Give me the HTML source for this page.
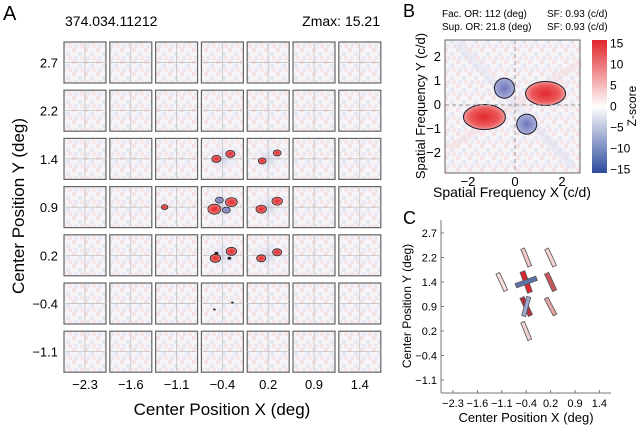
<!DOCTYPE html>
<html><head><meta charset="utf-8"><style>
body{margin:0;background:#fff;}
svg{display:block;font-family:"Liberation Sans",sans-serif;}
</style></head><body>
<svg id="fig" width="640" height="428" viewBox="0 0 640 428">
<defs>
<radialGradient id="rg"><stop offset="0" stop-color="#e0282c"/><stop offset="0.7" stop-color="#ec5a5c"/><stop offset="1" stop-color="#f29a9a"/></radialGradient>
<radialGradient id="bg"><stop offset="0" stop-color="#6d76bd"/><stop offset="1" stop-color="#a9afd8"/></radialGradient>
<radialGradient id="tint"><stop offset="0" stop-color="#c9cde8" stop-opacity="0.7"/><stop offset="1" stop-color="#fff" stop-opacity="0"/></radialGradient>
<linearGradient id="cbar" x1="0" y1="0" x2="0" y2="1"><stop offset="0" stop-color="#e0262b"/><stop offset="0.5" stop-color="#ffffff"/><stop offset="1" stop-color="#2d4a9c"/></linearGradient>
<pattern id="noise" width="12" height="12" patternUnits="userSpaceOnUse"><rect width="12" height="12" fill="#f7f4f7"/><rect x="0" y="0" width="4" height="4" fill="#f3e3e6"/><rect x="6" y="4" width="4" height="4" fill="#e6e8f3"/><rect x="2" y="8" width="4" height="4" fill="#ebeaf4"/><rect x="8" y="8" width="4" height="4" fill="#f5e6e8"/></pattern>
</defs>
<g id="panelA">
<text x="3" y="20" font-size="20">A</text>
<text x="65" y="26" font-size="14">374.034.11212</text>
<text x="380" y="26" font-size="14" text-anchor="end">Zmax: 15.21</text>
<text x="222" y="415" font-size="17" text-anchor="middle">Center Position X (deg)</text>
<text transform="translate(24,206) rotate(-90)" font-size="17" text-anchor="middle">Center Position Y (deg)</text>
<g id="gridA"></g>
</g>
<g id="panelB">
<text x="403" y="17" font-size="18">B</text>
<text x="442" y="17" font-size="10">Fac. OR: 112 (deg)</text>
<text x="547" y="17" font-size="10">SF: 0.93 (c/d)</text>
<text x="442" y="30" font-size="10">Sup. OR: 21.8 (deg)</text>
<text x="547" y="30" font-size="10">SF: 0.93 (c/d)</text>
<rect x="445" y="40" width="135" height="133" fill="url(#noise)"/>
<g id="blobsB"></g>
<line x1="515" y1="40" x2="515" y2="173" stroke="#999" stroke-dasharray="4,3"/>
<line x1="445" y1="105" x2="580" y2="105" stroke="#999" stroke-dasharray="4,3"/>
<rect x="445" y="40" width="135" height="133" fill="none" stroke="#666"/>
<g id="ticksB" font-size="13"></g>
<text x="512" y="197" font-size="14" text-anchor="middle">Spatial Frequency X (c/d)</text>
<text transform="translate(425,106) rotate(-90)" font-size="13" text-anchor="middle">Spatial Frequency Y (c/d)</text>
<rect x="592" y="40" width="15" height="133" fill="url(#cbar)"/>
<g id="cbTicks" font-size="12"></g>
<text transform="translate(636,106) rotate(-90)" font-size="12" text-anchor="middle">Z-score</text>
</g>
<g id="panelC">
<text x="403" y="224" font-size="18">C</text>
<line x1="441" y1="220" x2="441" y2="393" stroke="#777"/>
<line x1="441" y1="393" x2="611" y2="393" stroke="#777"/>
<g id="ticksC" font-size="11"></g>
<g id="barsC"></g>
<text x="526" y="422" font-size="13" text-anchor="middle">Center Position X (deg)</text>
<text transform="translate(411,306) rotate(-90)" font-size="12" text-anchor="middle">Center Position Y (deg)</text>
</g>
</svg>
<script>
const xLabels=["\u22122.3","\u22121.6","\u22121.1","\u22120.4","0.2","0.9","1.4"];
const yLabels=["2.7","2.2","1.4","0.9","0.2","\u22120.4","\u22121.1"];
// panel A blobs: column index, row index, dx, dy (px offset from cell center), radius, type
const blobCol=[3,3,4,4,2,3,3,3,3,4,4,3,3,3,3,4,4,3,3];
const blobRow=[2,2,2,2,3,3,3,3,3,3,3,4,4,4,4,4,4,5,5];
const blobDx=[-6,8,-6,9,-12,-8,9,-3,4,-7,9,-7,9,-6,7,-7,9,-8,10];
const blobDy=[0,-5,2,-6,0,2,-5,-7,3,2,-6,3,-4,-2,3,3,-3,6,-1];
const blobR=[3.5,3.5,3,3,2.5,5,4.5,3,3,4,4,4,4,1.5,1.5,3.5,3.5,1,1];
const blobType=["r","r","r","r","r","r","r","b","b","r","r","r","r","d","d","r","r","d","d"];
// panel C bars
const barCol=[3,4,2,3,4,3,4,3,3,3];
const barRow=[1,1,2,2,2,3,3,4,2,3];
const barAngle=[68,65,65,70,65,65,62,68,-20,105];
const barFill=["#f2c7c4","#f6d6d4","#f7e0de","#d9272f","#c9555c","#b2303a","#e4a5a6","#f3d3d1","#5d72a8","#9ea8d2"];
const barWidth=[4,4,4,5,4.5,4.5,4,4,4.5,4];
const barLen=[19,19,19,22,19,20,19,19,22,20];
const cbVals=[15,10,5,0,-5,-10,-15];
const bTicks=[-2,-1,0,1,2];
const bTickLabels=["\u22122","\u22121","0","1","2"];

const NS="http://www.w3.org/2000/svg";
function mk(tag,attrs,parent){const e=document.createElementNS(NS,tag);for(const k in attrs)e.setAttribute(k,attrs[k]);parent.appendChild(e);return e;}
const colX=i=>85+i*45.8, rowY=j=>62.5+j*48.2;
const gA=document.getElementById('gridA');
for(let j=0;j<7;j++){
  for(let i=0;i<7;i++){
    const cx=colX(i),cy=rowY(j);
    const r=mk('rect',{x:cx-21,y:cy-20.5,width:42,height:41,fill:'url(#noise)',stroke:'#666','stroke-width':1.2},gA);
    
    
    if((i===3||i===4)&&(j>=2&&j<=4)){mk('ellipse',{cx:cx,cy:cy,rx:19,ry:18,fill:'url(#tint)'},gA);}
    mk('line',{x1:cx-21,y1:cy,x2:cx+21,y2:cy,stroke:'#bbb','stroke-width':0.7},gA);
    mk('line',{x1:cx,y1:cy-20.5,x2:cx,y2:cy+20.5,stroke:'#bbb','stroke-width':0.7},gA);
  }
  const t=mk('text',{x:58,y:rowY(j)+5,'font-size':13,'text-anchor':'end'},gA);t.textContent=yLabels[j];
  
  
}
for(let i=0;i<7;i++){const t=mk('text',{x:colX(i),y:389,'font-size':13,'text-anchor':'middle'},gA);t.textContent=xLabels[i];
  
  }
for(let k=0;k<blobCol.length;k++){
  const cx=colX(blobCol[k])+blobDx[k],cy=rowY(blobRow[k])+blobDy[k];
  const ty=blobType[k];
  const e=mk('ellipse',{cx:cx,cy:cy,rx:blobR[k]*1.3,ry:blobR[k],fill:ty==='r'?'url(#rg)':ty==='b'?'url(#bg)':'#222',stroke:ty==='d'?'none':'#222','stroke-width':0.8},gA);
  
  
}
// Panel B
const bx=v=>515+v*23.5, by=v=>105-v*24;
const gB=document.getElementById('blobsB');
const sfBlobX=[1.3,-1.3,-0.45,0.5], sfBlobY=[0.48,-0.5,0.7,-0.8], sfRx=[20,21,10,10], sfRy=[12,12.5,10,10], sfRot=[0,0,-30,-30], sfType=['r','r','b','b'];
mk('line',{x1:bx(-2.8),y1:by(-1.8),x2:bx(2.8),y2:by(1.8),stroke:'#f4dcdf','stroke-width':7,opacity:0.5},gB);
mk('line',{x1:bx(-2.5),y1:by(2.6),x2:bx(2.5),y2:by(-2.6),stroke:'#dfe1f0','stroke-width':9,opacity:0.45},gB);
for(let k=0;k<4;k++){
  const cx=bx(sfBlobX[k]),cy=by(sfBlobY[k]);
  const e=mk('ellipse',{cx:cx,cy:cy,rx:sfRx[k],ry:sfRy[k],fill:sfType[k]==='r'?'url(#rg)':'url(#bg)',stroke:'#1a1a2a','stroke-width':1,transform:`rotate(${sfRot[k]} ${cx} ${cy})`},gB);
  
  
}
const tB=document.getElementById('ticksB');
for(let k=0;k<bTicks.length;k++){
  const v=bTicks[k];
  if(v%2===0){
  const t=mk('text',{x:bx(v),y:186,'text-anchor':'middle'},tB);t.textContent=bTickLabels[k];
  
  }
  const u=mk('text',{x:441,y:by(v)+4,'text-anchor':'end'},tB);u.textContent=bTickLabels[k];
  
  
}
const cbY=v=>106.5-v*(63/15);
const tC=document.getElementById('cbTicks');
for(const v of cbVals){const t=mk('text',{x:610,y:cbY(v)+4},tC);t.textContent=v<0?'\u2212'+(-v):String(v);
  
  }
// Panel C
const cX=i=>453+i*24.4, cY=j=>233+j*24.5;
const tk=document.getElementById('ticksC');
for(let i=0;i<7;i++){
  mk('line',{x1:cX(i),y1:393,x2:cX(i),y2:390,stroke:'#777'},tk);
  const t=mk('text',{x:cX(i),y:407,'text-anchor':'middle'},tk);t.textContent=xLabels[i];
  
  
  mk('line',{x1:441,y1:cY(i),x2:444,y2:cY(i),stroke:'#777'},tk);
  const u=mk('text',{x:437,y:cY(i)+4,'text-anchor':'end'},tk);u.textContent=yLabels[i];
  
  
}
const gC=document.getElementById('barsC');
for(let k=0;k<barCol.length;k++){
  const cx=cX(barCol[k]),cy=cY(barRow[k]);
  const r=mk('rect',{x:cx-barLen[k]/2,y:cy-barWidth[k]/2,width:barLen[k],height:barWidth[k],fill:barFill[k],stroke:'#555','stroke-width':0.8,transform:`rotate(${barAngle[k]} ${cx} ${cy})`},gC);
  
  
}
</script>
</body></html>
